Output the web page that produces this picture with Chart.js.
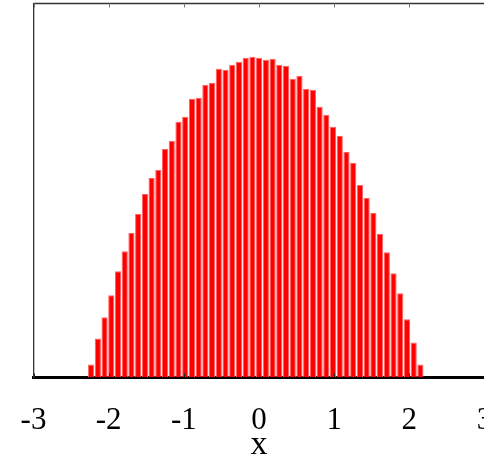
<!DOCTYPE html>
<html>
<head>
<meta charset="utf-8">
<script src="https://cdn.jsdelivr.net/npm/chart.js@4"></script>
<style>
  html, body { margin: 0; padding: 0; background: #fff; overflow: hidden; }
  #wrap { width: 540px; height: 457px; }
</style>
</head>
<body>
<div id="wrap"><canvas id="histChart" width="540" height="457"></canvas></div>
<script>
// Histogram of eigenvalue samples (semicircle shape), 50 bins
const binStart = -2.278;
const binWidth = 0.0894;
const density = [
  0.013, 0.039, 0.060, 0.082, 0.106, 0.126, 0.144, 0.163, 0.183, 0.199,
  0.207, 0.228, 0.236, 0.255, 0.260, 0.278, 0.279, 0.292, 0.294, 0.308,
  0.307, 0.312, 0.315, 0.319, 0.320, 0.319, 0.317, 0.318, 0.312, 0.311,
  0.298, 0.301, 0.288, 0.287, 0.270, 0.262, 0.250, 0.241, 0.225, 0.214,
  0.192, 0.179, 0.164, 0.143, 0.125, 0.104, 0.084, 0.058, 0.035, 0.013
];
const xTicks = [-3, -2, -1, 0, 1, 2, 3];

const points = density.map((v, i) => ({ x: binStart + (i + 0.5) * binWidth, y: v }));

// top border + small inward tick marks on top and bottom edges
const frame = {
  id: 'frame',
  afterDatasetsDraw(chart) {
    const { ctx, chartArea: a, scales: { x } } = chart;
    ctx.save();
    ctx.strokeStyle = '#333';
    ctx.lineWidth = 1.3;
    ctx.beginPath();
    ctx.moveTo(a.left, a.top);
    ctx.lineTo(a.right, a.top);
    ctx.stroke();
    ctx.lineWidth = 1;
    xTicks.forEach(t => {
      const px = Math.round(x.getPixelForValue(t)) + 0.5;
      ctx.strokeStyle = '#777';
      ctx.beginPath();
      ctx.moveTo(px, a.top);
      ctx.lineTo(px, a.top + 4);
      ctx.stroke();
      ctx.strokeStyle = '#222';
      ctx.beginPath();
      ctx.moveTo(px, a.bottom);
      ctx.lineTo(px, a.bottom - 4);
      ctx.stroke();
    });
    ctx.restore();
  }
};

new Chart(document.getElementById('histChart'), {
  type: 'bar',
  data: {
    datasets: [{
      data: points,
      backgroundColor: '#ff0000',
      borderColor: '#ff6060',
      borderWidth: 1,
      borderSkipped: 'bottom',
      categoryPercentage: 1,
      barPercentage: 0.92
    }]
  },
  options: {
    responsive: false,
    animation: false,
    layout: { padding: { left: 33.5, right: 55.5, top: 3.5, bottom: -1.5 } },
    plugins: { legend: { display: false }, tooltip: { enabled: false } },
    scales: {
      x: {
        type: 'linear',
        min: -3, max: 3,
        offset: false,
        grid: { display: false, drawTicks: false },
        border: { display: true, color: '#000', width: 3 },
        afterBuildTicks: s => { s.ticks = xTicks.map(v => ({ value: v })); },
        ticks: {
          padding: 12,
          color: '#000',
          font: { family: 'Liberation Serif', size: 31, lineHeight: 2 }
        },
        title: {
          display: true,
          text: 'x',
          color: '#000',
          padding: { top: -23.9, bottom: 7 },
          font: { family: 'Liberation Serif', size: 34, lineHeight: 0.35 }
        }
      },
      y: {
        min: 0, max: 0.373,
        grid: { display: false, drawTicks: false },
        border: { display: true, color: '#333', width: 1.3 },
        ticks: { display: false }
      }
    }
  },
  plugins: [frame]
});
</script>
</body>
</html>
